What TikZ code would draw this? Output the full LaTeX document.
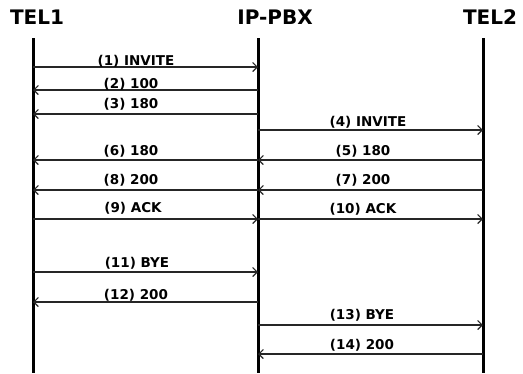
\documentclass[tikz,border=0pt]{standalone}
\usepackage{fontspec}
\setmainfont{DejaVu Sans}
\usetikzlibrary{arrows.meta}
\begin{document}
\begin{tikzpicture}[x=1pt,y=-1pt,
  head/.style={font=\fontsize{20}{20}\selectfont\bfseries, inner sep=0pt, text=black},
  lbl/.style={font=\fontsize{13.5}{14}\selectfont\bfseries, inner sep=0pt, text=black},
  life/.style={line width=3pt, black},
  msg/.style={line width=1.2pt, draw=black!85, -{Straight Barb[length=4.5pt,width=9pt,line width=1.2pt]}}]
\useasboundingbox (0,0) rectangle (523,373);
\node[head] (h1) at (37,17) {TEL1};
\node[head] (h2) at (275,17) {IP-PBX};
\node[head] (h3) at (490,17) {TEL2};
\coordinate (t1) at (33,38);  \coordinate (b1) at (33,373);
\coordinate (t2) at (258,38); \coordinate (b2) at (258,373);
\coordinate (t3) at (483,38); \coordinate (b3) at (483,373);
\draw[life] (t1) -- (b1);
\draw[life] (t2) -- (b2);
\draw[life] (t3) -- (b3);
\foreach \i/\fr/\tgt/\y/\lx/\ly/\txt in {
  1/1/2/67/136/61/{(1) INVITE},
  2/2/1/90/131/84/{(2) 100},
  3/2/1/114/131/104/{(3) 180},
  4/2/3/130/368/122/{(4) INVITE},
  5/3/2/160/363/151/{(5) 180},
  6/2/1/160/131/151/{(6) 180},
  7/3/2/190/363/180/{(7) 200},
  8/2/1/190/131/180/{(8) 200},
  9/1/2/219/133/208/{(9) ACK},
  10/2/3/219/363/209/{(10) ACK},
  11/1/2/272/137/263/{(11) BYE},
  12/2/1/302/136/295/{(12) 200},
  13/2/3/325/362/315/{(13) BYE},
  14/3/2/354/362/345/{(14) 200}} {
  \coordinate (y\i) at (0,\y);
  \coordinate (s\i) at (t\fr |- y\i);
  \coordinate (e\i) at (t\tgt |- y\i);
  \draw[msg] (s\i) -- (e\i);
  \node[lbl] (l\i) at (\lx,\ly) {\txt};
}
\end{tikzpicture}
\end{document}
